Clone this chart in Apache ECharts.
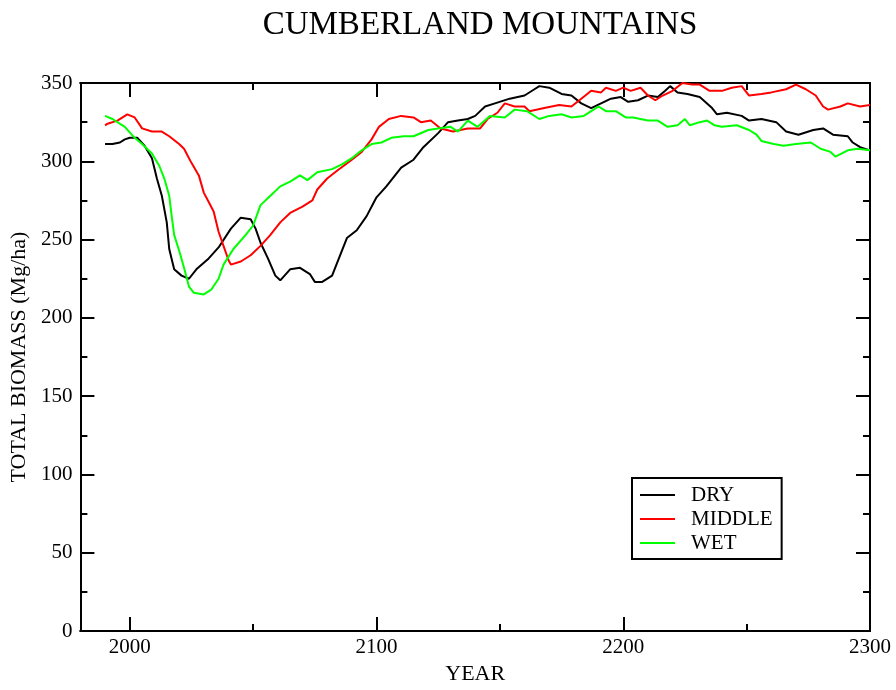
<!DOCTYPE html>
<html>
<head>
<meta charset="utf-8">
<title>Cumberland Mountains biomass</title>
<script src="https://cdn.jsdelivr.net/npm/echarts@6/dist/echarts.min.js"></script>
<style>
  html, body { margin: 0; padding: 0; background: #fff; }
  #chart { width: 896px; height: 690px; }
</style>
</head>
<body>
<div id="chart"></div>
<script>
// Total biomass (Mg/ha) simulated for three moisture regimes
const dryYears = [1990, 1993, 1996, 1998, 2000, 2003, 2006, 2009, 2011, 2013, 2015, 2016, 2018, 2021, 2024, 2027, 2032, 2036, 2041, 2045, 2049, 2051, 2053, 2056, 2059, 2061, 2065, 2069, 2073, 2075, 2078, 2082, 2084, 2088, 2092, 2096, 2100, 2104, 2110, 2115, 2119, 2125, 2129, 2133, 2137, 2140, 2144, 2148, 2154, 2160, 2164, 2166, 2170, 2175, 2179, 2183, 2187, 2191, 2195, 2199, 2202, 2206, 2210, 2214, 2217, 2219, 2222, 2226, 2231, 2236, 2238, 2242, 2248, 2251, 2256, 2262, 2266, 2271, 2277, 2281, 2285, 2291, 2293, 2296, 2300];
const dryValues = [311, 311, 312, 314, 315, 315, 310, 302, 289, 278, 261, 244, 231, 227, 225, 231, 238, 245, 257, 264, 263, 257, 248, 238, 227, 224, 231, 232, 228, 223, 223, 227, 235, 251, 256, 265, 277, 284, 296, 301, 309, 318, 325, 326, 327, 329, 335, 337, 340, 342, 346, 348, 347, 343, 342, 337, 334, 337, 340, 341, 338, 339, 342, 341, 345, 348, 344, 343, 341, 334, 330, 331, 329, 326, 327, 325, 319, 317, 320, 321, 317, 316, 312, 309, 307];

const middleYears = [1990, 1991, 1995, 1999, 2002, 2005, 2009, 2013, 2016, 2020, 2022, 2025, 2028, 2030, 2032, 2034, 2036, 2038, 2040, 2041, 2045, 2049, 2053, 2057, 2061, 2065, 2070, 2074, 2076, 2080, 2084, 2090, 2094, 2098, 2101, 2105, 2110, 2115, 2118, 2122, 2126, 2131, 2137, 2142, 2145, 2149, 2152, 2156, 2160, 2162, 2168, 2174, 2179, 2183, 2187, 2191, 2193, 2197, 2200, 2203, 2207, 2210, 2213, 2216, 2220, 2224, 2228, 2231, 2235, 2240, 2244, 2248, 2251, 2256, 2260, 2266, 2270, 2274, 2278, 2281, 2283, 2288, 2291, 2296, 2300];
const middleValues = [323, 324, 326, 330, 328, 321, 319, 319, 316, 311, 308, 299, 291, 280, 274, 268, 255, 246, 237, 234, 236, 240, 246, 253, 261, 267, 271, 275, 282, 289, 294, 301, 306, 314, 322, 327, 329, 328, 325, 326, 321, 319, 321, 321, 327, 331, 337, 335, 335, 332, 334, 336, 335, 340, 345, 344, 347, 345, 347, 345, 347, 342, 339, 342, 345, 350, 349, 349, 345, 345, 347, 348, 342, 343, 344, 346, 349, 346, 342, 335, 333, 335, 337, 335, 336];

const wetYears = [1990, 1993, 1998, 2002, 2005, 2009, 2012, 2014, 2016, 2017, 2018, 2020, 2022, 2024, 2026, 2030, 2033, 2036, 2038, 2042, 2047, 2050, 2053, 2057, 2061, 2065, 2069, 2072, 2076, 2082, 2086, 2090, 2094, 2098, 2102, 2106, 2111, 2115, 2121, 2125, 2130, 2133, 2137, 2141, 2146, 2152, 2156, 2161, 2166, 2170, 2175, 2179, 2184, 2187, 2190, 2193, 2197, 2201, 2204, 2210, 2214, 2218, 2222, 2225, 2227, 2231, 2234, 2237, 2240, 2246, 2251, 2254, 2256, 2261, 2265, 2270, 2276, 2280, 2284, 2286, 2291, 2295, 2300];
const wetValues = [329, 327, 322, 315, 311, 305, 297, 289, 278, 265, 253, 243, 232, 220, 216, 215, 218, 225, 234, 244, 253, 259, 272, 278, 284, 287, 291, 288, 293, 295, 298, 302, 307, 311, 312, 315, 316, 316, 320, 321, 322, 319, 326, 322, 329, 328, 333, 332, 327, 329, 330, 328, 329, 332, 335, 332, 332, 328, 328, 326, 326, 322, 323, 327, 323, 325, 326, 323, 322, 323, 320, 317, 313, 311, 310, 311, 312, 308, 306, 303, 307, 308, 307];

const seriesNames = ['DRY', 'MIDDLE', 'WET'];
const seriesColors = ['#000000', '#ff0000', '#00ff00'];
const majorYearTicks = [2000, 2100, 2200, 2300];
const minorYearTicks = [2050, 2150, 2250];

const pairs = (xs, ys) => xs.map((x, i) => [x, ys[i]]);
const seriesData = [
  pairs(dryYears, dryValues),
  pairs(middleYears, middleValues),
  pairs(wetYears, wetValues)
];

const FONT = "'Liberation Serif', 'Times New Roman', serif";
const axisLineStyle = { color: '#000', width: 2 };

function yearAxis(position, ticks, len, withLabels) {
  return {
    type: 'value',
    position: position,
    min: 1980,
    max: 2300,
    axisLine: { show: true, onZero: false, lineStyle: axisLineStyle },
    axisTick: { show: true, inside: true, length: len, customValues: ticks, lineStyle: axisLineStyle },
    axisLabel: withLabels
      ? { show: true, customValues: ticks, margin: 6, color: '#000', fontFamily: FONT, fontSize: 21,
          formatter: (v) => String(Math.round(v)) }
      : { show: false },
    splitLine: { show: false }
  };
}

function biomassAxis(position, withLabels) {
  return {
    type: 'value',
    position: position,
    min: 0,
    max: 350,
    interval: 50,
    axisLine: { show: true, onZero: false, lineStyle: axisLineStyle },
    axisTick: { show: true, inside: true, length: 14, lineStyle: axisLineStyle },
    minorTick: { show: true, splitNumber: 2, length: 7, lineStyle: axisLineStyle },
    axisLabel: withLabels
      ? { show: true, margin: 8, color: '#000', fontFamily: FONT, fontSize: 21,
          formatter: (v) => String(Math.round(v)) }
      : { show: false },
    splitLine: { show: false },
    minorSplitLine: { show: false }
  };
}

const bottomMajor = Object.assign(yearAxis('bottom', majorYearTicks, 14, true), {
  name: 'YEAR',
  nameLocation: 'middle',
  nameGap: 29,
  nameTextStyle: { color: '#000', fontFamily: FONT, fontSize: 22 }
});
const leftAxis = Object.assign(biomassAxis('left', true), {
  name: 'TOTAL BIOMASS (Mg/ha)',
  nameLocation: 'middle',
  nameGap: 50,
  nameTextStyle: { color: '#000', fontFamily: FONT, fontSize: 22 }
});

const chart = echarts.init(document.getElementById('chart'), null, { renderer: 'canvas' });
chart.setOption({
  animation: false,
  backgroundColor: '#fff',
  title: {
    text: 'CUMBERLAND MOUNTAINS',
    left: 475,
    textAlign: 'center',
    top: 4,
    textStyle: { color: '#000', fontFamily: FONT, fontWeight: 'normal', fontSize: 33 }
  },
  grid: { left: 80, right: 26, top: 83, bottom: 54, containLabel: false },
  legend: {
    data: seriesNames,
    orient: 'vertical',
    left: 632,
    top: 478,
    borderColor: '#000',
    borderWidth: 2,
    padding: [6, 9, 5, 8],
    itemWidth: 35,
    itemHeight: 2,
    itemGap: 2,
    icon: 'rect',
    textStyle: { color: '#000', fontFamily: FONT, fontSize: 21, lineHeight: 22, padding: [0, 0, 0, 11] }
  },
  xAxis: [
    bottomMajor,
    yearAxis('bottom', minorYearTicks, 7, false),
    yearAxis('top', majorYearTicks, 14, false),
    yearAxis('top', minorYearTicks, 7, false)
  ],
  yAxis: [
    leftAxis,
    biomassAxis('right', false)
  ],
  series: seriesNames.map((name, i) => ({
    name: name,
    type: 'line',
    xAxisIndex: 0,
    yAxisIndex: 0,
    data: seriesData[i],
    showSymbol: false,
    symbol: 'none',
    color: seriesColors[i],
    lineStyle: { color: seriesColors[i], width: 2 },
    clip: true
  }))
});
</script>
</body>
</html>
